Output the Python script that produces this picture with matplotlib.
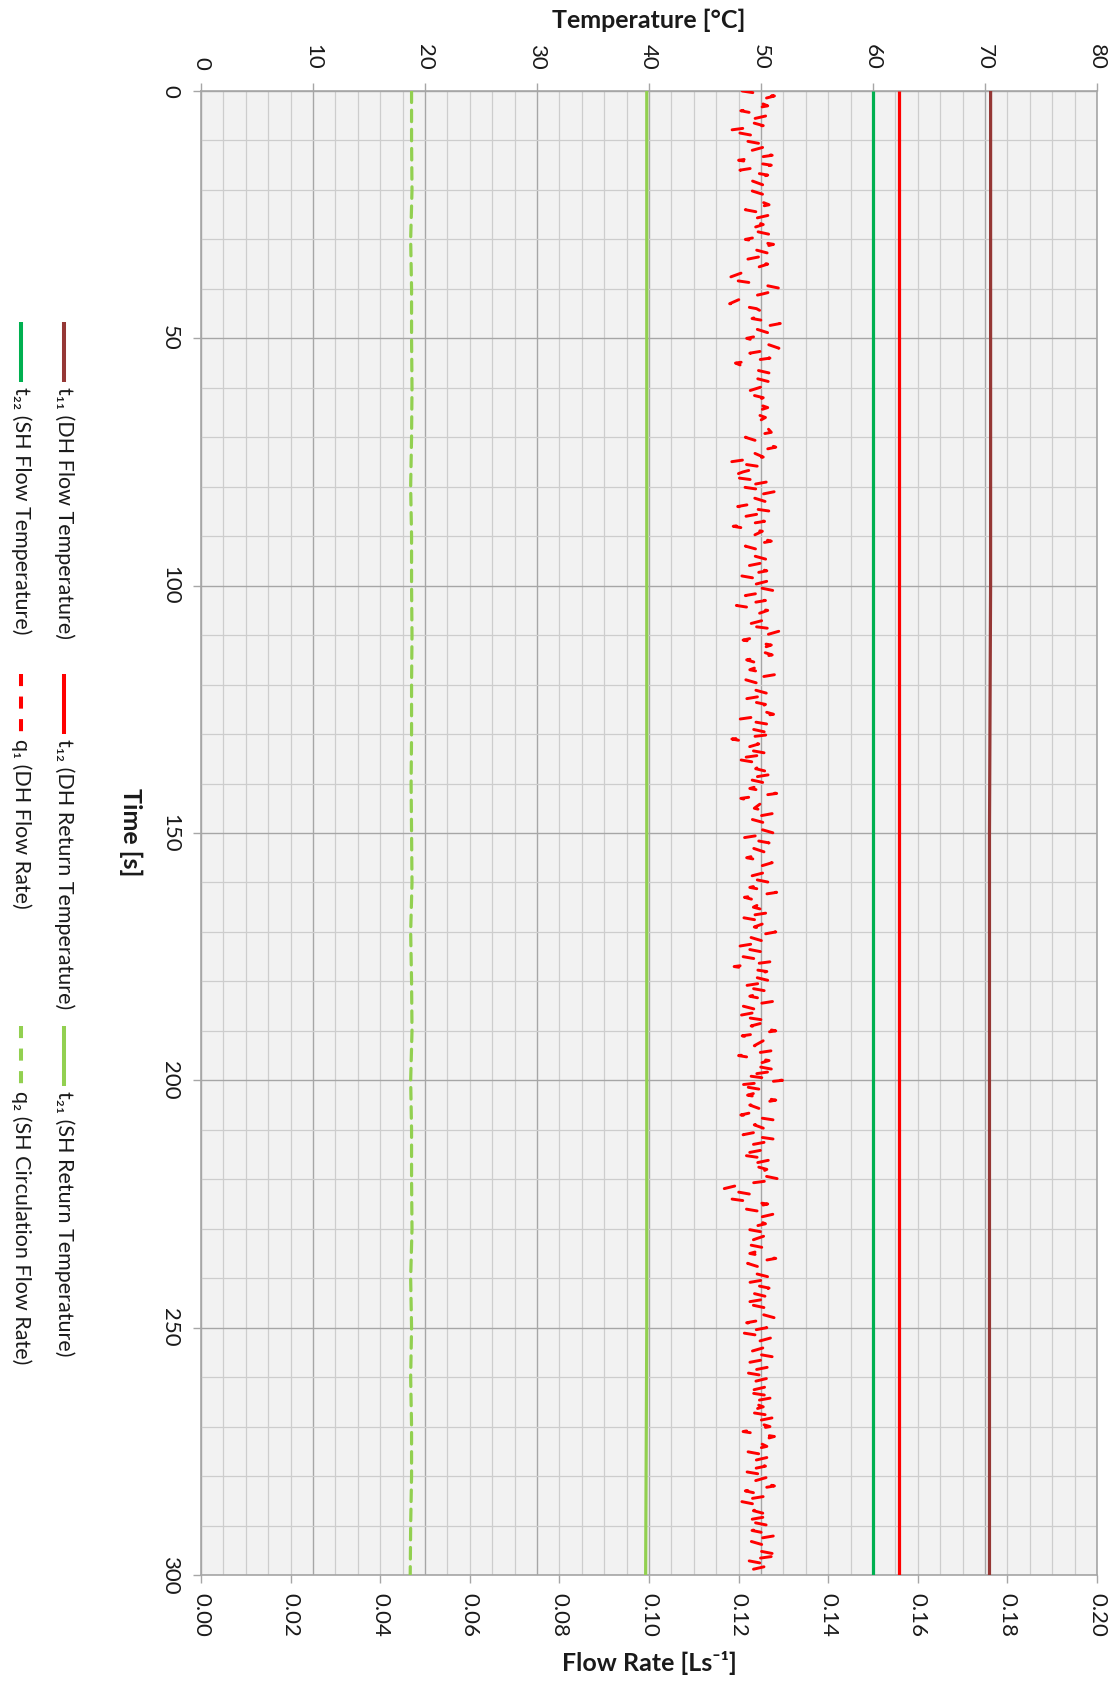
import numpy as np
import matplotlib
matplotlib.use("Agg")
import matplotlib.pyplot as plt
from matplotlib.lines import Line2D
from matplotlib.ticker import MultipleLocator, FormatStrFormatter

plt.rcParams['font.family'] = ['Lato', 'DejaVu Sans']

# ---------------- data ----------------
# Sample times for the near-constant temperature signals (s)
time_temp = [0, 50, 100, 150, 200, 250, 300]
t11 = [70.5, 70.5, 70.5, 70.4, 70.4, 70.4, 70.4]   # DH flow temperature (degC)
t12 = [62.3, 62.3, 62.3, 62.3, 62.3, 62.3, 62.3]   # DH return temperature
t22 = [60.0, 60.0, 60.0, 60.0, 60.0, 60.0, 60.0]   # SH flow temperature
t21 = [39.8, 39.8, 39.8, 39.8, 39.8, 39.8, 39.7]   # SH return temperature

# DH flow rate, 1 s samples (L/s)
time_q1 = list(range(0, 301))
q1 = [
    .1208, .1280, .1238, .1265, .1205, .1263, .1215, .1255, .1173, .1233,
    .1210, .1270, .1230, .1275, .1200, .1273, .1203, .1265, .1225, .1255,
    .1223, .1258, .1240, .1268, .1215, .1273, .1225, .1255, .1220, .1270,
    .1215, .1278, .1233, .1275, .1220, .1265, .1230, .1200, .1170, .1245,
    .1298, .1255, .1205, .1180, .1240, .1260, .1230, .1293, .1235, .1270,
    .1218, .1258, .1290, .1225, .1270, .1193, .1220, .1268, .1235, .1278,
    .1245, .1210, .1255, .1233, .1265, .1230, .1260, .1240, .1263, .1273,
    .1215, .1250, .1283, .1230, .1255, .1180, .1253, .1210, .1180, .1265,
    .1205, .1280, .1225, .1260, .1198, .1275, .1215, .1258, .1188, .1253,
    .1230, .1273, .1215, .1255, .1235, .1275, .1220, .1263, .1205, .1268,
    .1225, .1278, .1215, .1260, .1195, .1265, .1233, .1255, .1213, .1298,
    .1260, .1210, .1273, .1240, .1275, .1218, .1255, .1225, .1280, .1215,
    .1253, .1233, .1273, .1208, .1260, .1240, .1278, .1200, .1265, .1230,
    .1280, .1185, .1245, .1208, .1270, .1190, .1255, .1238, .1283, .1215,
    .1265, .1225, .1285, .1205, .1250, .1235, .1280, .1220, .1260, .1240,
    .1278, .1208, .1268, .1230, .1263, .1218, .1275, .1238, .1258, .1215,
    .1270, .1225, .1285, .1213, .1255, .1233, .1275, .1203, .1265, .1235,
    .1283, .1223, .1260, .1193, .1250, .1210, .1273, .1190, .1263, .1230,
    .1275, .1205, .1265, .1225, .1280, .1210, .1253, .1195, .1270, .1228,
    .1283, .1208, .1255, .1235, .1275, .1200, .1268, .1230, .1290, .1213,
    .1298, .1195, .1260, .1220, .1283, .1225, .1255, .1205, .1278, .1235,
    .1265, .1210, .1288, .1230, .1258, .1200, .1275, .1223, .1263, .1240,
    .1293, .1208, .1163, .1225, .1185, .1265, .1215, .1280, .1233, .1260,
    .1213, .1273, .1240, .1210, .1265, .1225, .1283, .1220, .1255, .1235,
    .1278, .1215, .1268, .1230, .1275, .1208, .1260, .1240, .1280, .1218,
    .1263, .1205, .1275, .1235, .1258, .1220, .1283, .1225, .1265, .1210,
    .1275, .1230, .1260, .1213, .1285, .1225, .1255, .1218, .1288, .1233,
    .1270, .1210, .1280, .1240, .1263, .1215, .1275, .1228, .1260, .1208,
    .1273, .1235, .1280, .1215, .1265, .1198, .1253, .1233, .1275, .1213,
    .1268, .1230, .1285, .1220, .1258, .1238, .1295, .1215, .1273, .1225,
    .1195,
]

# SH circulation flow rate, 10 s samples (L/s)
time_q2 = list(range(0, 301, 10))
q2 = [
    .0470, .0470, .0471, .0468, .0470, .0470, .0471, .0470, .0468, .0470,
    .0470, .0471, .0470, .0470, .0469, .0470, .0471, .0468, .0470, .0471,
    .0468, .0470, .0470, .0471, .0468, .0470, .0468, .0470, .0470, .0468,
    .0467,
]

temp_ticks = list(range(0, 81, 10))
flow_ticks = [0.00, 0.02, 0.04, 0.06, 0.08, 0.10, 0.12, 0.14, 0.16, 0.18, 0.20]
time_ticks = list(range(0, 301, 50))

labels = {
    't11': 't\u2081\u2081 (DH Flow Temperature)',
    't22': 't\u2082\u2082 (SH Flow Temperature)',
    't12': 't\u2081\u2082 (DH Return Temperature)',
    'q1': 'q\u2081 (DH Flow Rate)',
    't21': 't\u2082\u2081 (SH Return Temperature)',
    'q2': 'q\u2082 (SH Circulation Flow Rate)',
}
colors = {
    't11': '#953735', 't12': '#FF0000', 't22': '#00B050',
    't21': '#92D050', 'q1': '#FF0000', 'q2': '#92D050',
}

# ---------------- figure ----------------
W, H = 1119, 1684
fig = plt.figure(figsize=(W / 100, H / 100), dpi=100)
fig.patch.set_facecolor('white')

x0, x1, y0, y1 = 201, 1097, 91, 1575
ax = fig.add_axes([x0 / W, 1 - y1 / H, (x1 - x0) / W, (y1 - y0) / H])
ax.set_facecolor('#F2F2F2')
ax2 = ax.twiny()   # flow-rate scale along the bottom edge

grid_major = '#A6A6A6'
grid_minor = '#CDCDCD'
text_col = '#1A1A1A'
lw = 2.3

# temperature lines (temperature runs horizontally, time downwards)
for key, vals in (('t21', t21), ('t22', t22), ('t12', t12), ('t11', t11)):
    ax.plot(vals, time_temp, color=colors[key], lw=lw, solid_capstyle='butt', zorder=3)

ax.set_xlim(0, 80)
ax.set_ylim(300, 0)
ax.set_xticks(temp_ticks)
ax.set_yticks(time_ticks)
ax.xaxis.set_minor_locator(MultipleLocator(2))
ax.yaxis.set_minor_locator(MultipleLocator(10))
ax.grid(which='major', color=grid_major, lw=1.0, zorder=0)
ax.grid(which='minor', color=grid_minor, lw=0.9, zorder=0)
ax.set_axisbelow(True)

ax.xaxis.set_ticks_position('top')
ax.tick_params(axis='x', which='major', top=True, bottom=False, labeltop=True,
               labelbottom=False, length=6, width=1.0, color=grid_major,
               pad=9, labelsize=16, labelrotation=-90, labelcolor=text_col)
ax.tick_params(axis='y', which='major', left=True, right=False, length=6, width=1.0,
               color=grid_major, pad=9, labelsize=16, labelrotation=-90,
               labelcolor=text_col)
ax.tick_params(which='minor', length=0)
for lab in ax.get_yticklabels():
    lab.set_verticalalignment('center')
for s in ax.spines.values():
    s.set_color(grid_major)
    s.set_linewidth(1.2)

ax.xaxis.set_label_position('top')
ax.set_xlabel('Temperature [\u00b0C]', fontsize=18, fontweight='bold', va='center',
              color=text_col)
ax.xaxis.set_label_coords(0.5, (y1 - 20) / (y1 - y0))
ax.set_ylabel('Time [s]', fontsize=18, fontweight='bold', rotation=-90,
              va='center', ha='center', color=text_col)
ax.yaxis.set_label_coords((131 - x0) / (x1 - x0), 0.5 - (832 - (y0 + y1) / 2) / (y1 - y0))

# flow-rate series
ax2.plot(q2, time_q2, color=colors['q2'], lw=lw, dashes=(3.6, 2.4),
         dash_capstyle='round', zorder=4)
ax2.plot(q1, time_q1, color=colors['q1'], lw=2.1, dashes=(3.7, 6.6),
         dash_capstyle='round', zorder=4)
ax2.set_xlim(0, 0.2)
ax2.set_ylim(300, 0)
ax2.set_xticks(flow_ticks)
ax2.xaxis.set_major_formatter(FormatStrFormatter('%.2f'))
ax2.xaxis.set_ticks_position('bottom')
ax2.xaxis.set_label_position('bottom')
ax2.tick_params(axis='x', top=False, bottom=True, labeltop=False, labelbottom=True,
                length=6, width=1.0, color=grid_major, pad=7,
                labelsize=16, labelrotation=-90, labelcolor=text_col)
for s in ax2.spines.values():
    s.set_visible(False)
ax2.set_xlabel('Flow Rate [Ls\u207b\u00b9]', fontsize=18, fontweight='bold', va='center',
               color=text_col)
ax2.xaxis.set_label_coords(0.5, (y1 - 1663) / (y1 - y0))

# ---------------- legend (rotated, left margin) ----------------
legend_items = [
    ('t11', 64, 322, False), ('t22', 21, 322, False),
    ('t12', 64, 674, False), ('q1', 21, 674, True),
    ('t21', 64, 1026, False), ('q2', 21, 1026, True),
]
seg = 60
for key, px, py, dashed in legend_items:
    xf = px / W
    kw = dict(color=colors[key], lw=lw + 0.6, transform=fig.transFigure)
    if dashed:
        kw.update(dashes=(3.0, 2.6), dash_capstyle='butt')
    else:
        kw.update(solid_capstyle='butt')
    fig.add_artist(Line2D([xf, xf], [1 - py / H, 1 - (py + seg) / H], **kw))
    fig.text(xf, 1 - (py + seg + 5) / H, labels[key], rotation=-90,
             ha='center', va='top', fontsize=15.5, color=text_col)

fig.savefig('out.png', dpi=100, facecolor='white')
